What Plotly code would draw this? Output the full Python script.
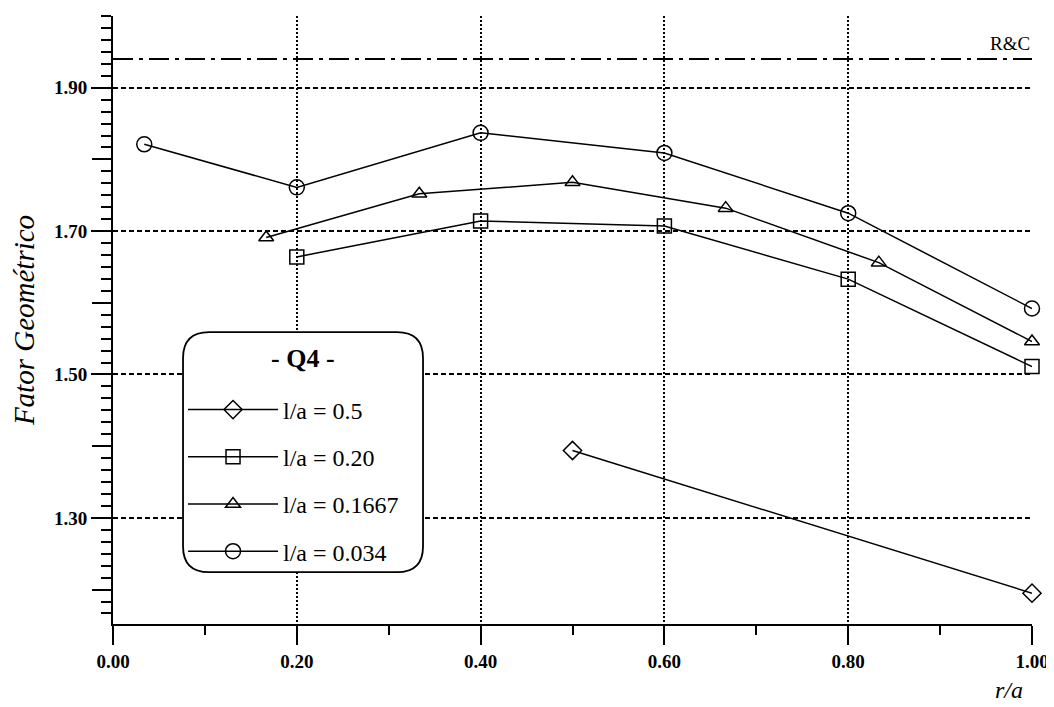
import plotly.graph_objects as go

# ---- data ----
x_diamond = [0.5, 1.0]
y_diamond = [1.394, 1.195]
x_square = [0.2, 0.4, 0.6, 0.8, 1.0]
y_square = [1.664, 1.714, 1.707, 1.633, 1.511]
x_triangle = [0.1667, 0.3333, 0.5, 0.6667, 0.8333, 1.0]
y_triangle = [1.691, 1.752, 1.768, 1.732, 1.656, 1.546]
x_circle = [0.034, 0.2, 0.4, 0.6, 0.8, 1.0]
y_circle = [1.821, 1.761, 1.837, 1.809, 1.725, 1.592]
rc_value = 1.94

x_ticks = [0.0, 0.2, 0.4, 0.6, 0.8, 1.0]
x_ticklabels = ["0.00", "0.20", "0.40", "0.60", "0.80", "1.00"]
y_ticks = [1.30, 1.50, 1.70, 1.90]
y_ticklabels = ["1.30", "1.50", "1.70", "1.90"]
y_midticks = [1.20, 1.40, 1.60, 1.80]

FONT = "Liberation Serif"
Y_RANGE = [1.152, 2.0]

fig = go.Figure()

series = [
    ("l/a = 0.5", x_diamond, y_diamond, "diamond-open", 14),
    ("l/a = 0.20", x_square, y_square, "square-open", 14),
    ("l/a = 0.1667", x_triangle, y_triangle, "triangle-up-open", 13),
    ("l/a = 0.034", x_circle, y_circle, "circle-open", 15),
]
for i, (name, xs, ys, sym, sz) in enumerate(series):
    fig.add_trace(go.Scatter(
        x=xs, y=ys, name=name, mode="lines+markers",
        line=dict(color="black", width=1.5),
        marker=dict(symbol=sym, size=sz, color="black", line=dict(width=1.5, color="black")),
        legendgroup=f"g{i}", cliponaxis=False,
    ))

# invisible trace on second y axis, to carry the unlabeled 0.1-step ticks
fig.add_trace(go.Scatter(x=[0], y=[1.5], yaxis="y2", showlegend=False,
                         mode="markers", marker=dict(opacity=0), hoverinfo="skip"))

# R&C reference line
fig.add_hline(y=rc_value, line=dict(color="black", width=1.8, dash="20px,6px,4px,6px"))
fig.add_annotation(x=1.0, y=rc_value, xref="x", yref="y", text="R&amp;C", showarrow=False,
                   xanchor="right", yanchor="bottom", yshift=3,
                   font=dict(family=FONT, size=19, color="black"))

# rounded legend box
W, H, R = 240, 240, 26
path = (f"M {R},0 L {W-R},0 Q {W},0 {W},{-R} L {W},{-(H-R)} Q {W},{-H} {W-R},{-H} "
        f"L {R},{-H} Q 0,{-H} 0,{-(H-R)} L 0,{-R} Q 0,0 {R},0 Z")
fig.add_shape(type="path", path=path, xref="paper", yref="paper",
              xsizemode="pixel", ysizemode="pixel", xanchor=0.0762, yanchor=0.480,
              fillcolor="white", line=dict(color="black", width=1.8), layer="above")

# legend heading
fig.add_annotation(x=0.0762, y=0.480, xref="paper", yref="paper", text="<b>- Q4 -</b>",
                   showarrow=False, xanchor="center", yanchor="middle",
                   xshift=120, yshift=-26,
                   font=dict(family=FONT, size=26, color="black"))

fig.add_annotation(x=0.975, y=0, xref="paper", yref="paper", text="<i>r/a</i>",
                   showarrow=False, xanchor="center", yanchor="bottom", yshift=-81,
                   font=dict(family=FONT, size=24, color="black"))

# the page adds an 8px body margin, so the figure is 8px smaller and margins shifted
fig.update_layout(
    width=1046, height=699,
    margin=dict(l=105, r=22, t=8, b=83, autoexpand=False),
    paper_bgcolor="white", plot_bgcolor="white",
    font=dict(family=FONT, color="black"),
    showlegend=True,
    legend=dict(
        x=0.0762, y=0.389, xanchor="left", yanchor="top",
        bgcolor="rgba(0,0,0,0)", borderwidth=0,
        font=dict(family=FONT, size=24, color="black"),
        tracegroupgap=13, itemwidth=90,
    ),
    xaxis=dict(
        range=[0, 1], tickvals=x_ticks, ticktext=x_ticklabels, automargin=False,
        tickfont=dict(family=FONT, size=19, color="black", weight="bold"),
        showline=True, linecolor="black", linewidth=2,
        ticks="outside", ticklen=19, tickwidth=2, tickcolor="black",
        showgrid=True, gridcolor="black", griddash="2px,2px", gridwidth=2,
        zeroline=False,
        minor=dict(dtick=0.1, ticks="outside", ticklen=9, tickwidth=2, tickcolor="black", showgrid=False),
    ),
    yaxis=dict(
        range=Y_RANGE, tickvals=y_ticks, ticktext=y_ticklabels, automargin=False,
        tickfont=dict(family=FONT, size=19, color="black", weight="bold"),
        showline=True, linecolor="black", linewidth=2,
        ticks="outside", ticklen=20, tickwidth=2, tickcolor="black",
        showgrid=True, gridcolor="black", griddash="5px,3px", gridwidth=1.6,
        zeroline=False,
        title=dict(text="<i>Fator Geométrico</i>", standoff=14,
                   font=dict(family=FONT, size=29, color="black")),
        minor=dict(tick0=1.9, dtick=1/60, ticks="outside", ticklen=10, tickwidth=1.6, tickcolor="black", showgrid=False),
    ),
    yaxis2=dict(
        range=Y_RANGE, overlaying="y", side="left", anchor="x", automargin=False,
        tickvals=y_midticks, ticktext=["" for _ in y_midticks],
        ticks="outside", ticklen=20, tickwidth=2, tickcolor="black",
        showgrid=False, zeroline=False, showline=False,
    ),
)

fig.write_html("out.html")
